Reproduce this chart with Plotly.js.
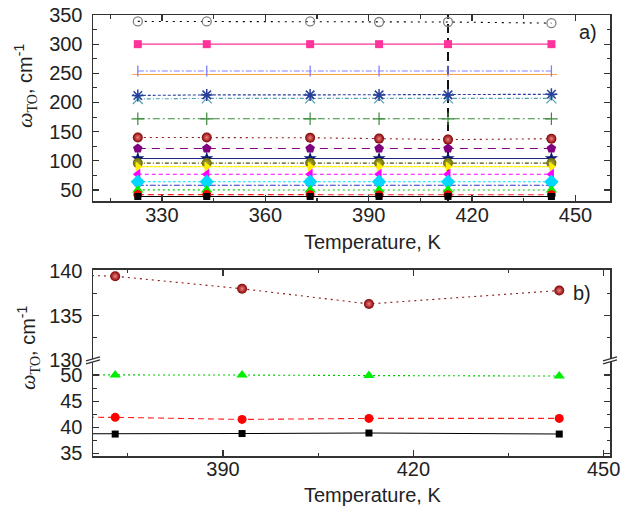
<!DOCTYPE html>
<html><head><meta charset="utf-8">
<script src="https://cdn.plot.ly/plotly-3.0.1.min.js"></script>
<style>html,body{margin:0;padding:0;background:#fff}#chart{width:633px;height:508px}</style>
</head><body><div id="chart"></div>
<script>
// ---- data ----
const temps = [323, 343, 373, 393, 413, 443];
const markTemperature = [413];
const wOpenCircle = [339, 339, 339, 338, 338, 336];
const wPinkSquare = [300, 300, 300, 300, 300, 300];
const wBar        = [254, 254, 254, 254, 254, 254];
const wOrange     = [248, 248, 248, 248, 248, 248];
const wAsterisk   = [212, 213, 213, 213, 213, 214];
const wCross      = [206, 207, 207, 207, 207, 207];
const wPlus       = [172, 172, 172, 172, 172, 172];
const wBall       = [140.0, 140.0, 139.4, 138.0, 136.3, 137.8];
const wPentagon   = [121, 121, 121, 121, 121, 121];
const wStar       = [104, 104, 104, 104, 104, 104];
const wOlive      = [96, 96, 96, 96, 96, 96];
const wYellow     = [90, 90, 90, 90, 90, 90];
const wMagenta    = [77, 77, 77, 77, 77, 77];
const wCyan       = [64, 64, 64, 64, 64, 64];
const wBlue       = [58, 58, 58, 58, 58, 58];
const wGreen      = [50.1, 50.1, 50.0, 50.0, 49.9, 49.8];
const wRed        = [42.0, 42.0, 41.9, 41.5, 41.7, 41.7];
const wBlack      = [38.7, 38.7, 38.7, 38.8, 38.9, 38.7];

const yTicksTop = [50, 100, 150, 200, 250, 300, 350];
const xTicks = [330, 360, 390, 420, 450];

// ---- styles ----
const series = [
  {y: wOpenCircle, sym:'circle-open', mc:'#808080', size:9, lc:'#000', dash:'2px,5px', mlw:1.3},
  {y: wPinkSquare, sym:'square', mc:'#ff3399', size:8, lc:'#ff3399', dash:'solid'},
  {y: wOrange, sym:'line-ew-open', mc:'#ffa040', size:8, lc:'#ffa040', dash:'solid', mlw:1},
  {y: wBar, sym:'line-ns-open', mc:'#8080ff', size:8, lc:'#8080ff', dash:'6px,2px,2px,2px', mlw:1.3},
  {y: wCross, sym:'x-thin-open', mc:'#50a0b0', size:10, lc:'#50a0b0', dash:'4px,2px,1px,2px', mlw:1.2},
  {y: wAsterisk, sym:'asterisk-open', mc:'#2b3f9a', size:10, lc:'#2b3f9a', dash:'3px,2px', mlw:1.5},
  {y: wPlus, sym:'cross-thin-open', mc:'#3a8a3a', size:9, lc:'#3a8a3a', dash:'7px,3px,2px,3px', mlw:1.2},
  {y: wBall, sym:'circle', mc:'#800000', size:10, lc:'#8b1a1a', dash:'2px,4px', grad:'#f08080'},
  {y: wPentagon, sym:'pentagon', mc:'#800080', size:10, lc:'#800080', dash:'8px,6px'},
  {y: wStar, sym:'star', mc:'#0a1a70', size:10, lc:'#1a2a80', dash:'solid'},
  {y: wOlive, sym:'circle', mc:'#6b6b00', size:10, lc:'#555500', dash:'4px,2px,1px,2px', grad:'#b0b040'},
  {y: wYellow, sym:'triangle-right', mc:'#ffee00', size:9, lc:'#ffee00', dash:'3px,1px'},
  {y: wMagenta, sym:'triangle-left', mc:'#ff00ff', size:10, lc:'#ff00ff', dash:'4px,3px'},
  {y: wBlue, sym:'triangle-down', mc:'#2040e0', size:9, lc:'#3333cc', dash:'6px,2px,2px,2px'},
  {y: wCyan, sym:'diamond', mc:'#00d8ff', size:11, lc:'#00e0ff', dash:'3px,2px'},
  {y: wGreen, sym:'triangle-up', mc:'#00ee00', size:10, lc:'#00cc00', dash:'2px,3px'},
  {y: wRed, sym:'circle', mc:'#ff0000', size:9, lc:'#ff2020', dash:'6px,4px'},
  {y: wBlack, sym:'square', mc:'#000000', size:7, lc:'#000000', dash:'solid'}
];

function mk(s, xa, ya) {
  const marker = {symbol: s.sym, color: s.mc, size: s.size,
                  line: {color: s.mc, width: s.mlw || 0}};
  if (s.grad) marker.gradient = {type: 'radial', color: s.grad};
  return {x: temps, y: s.y, xaxis: xa, yaxis: ya, mode: 'lines+markers',
          line: {color: s.lc, width: 1.1, dash: s.dash}, marker: marker,
          showlegend: false, hoverinfo: 'x+y', cliponaxis: true};
}

const data = series.map(s => mk(s, 'x', 'y'));
// bottom panel
data.push(mk(series[7], 'x3', 'y2'));
data.push(mk(series[15], 'x2', 'y3'));
data.push(mk(series[16], 'x2', 'y3'));
data.push(mk(series[17], 'x2', 'y3'));

const tickFont = {family: 'Liberation Sans, Arial, sans-serif', size: 20, color: '#222'};
const base = {showline: true, linecolor: '#333', linewidth: 1.5, ticks: 'inside', ticklen: 6,
  tickwidth: 1.3, tickcolor: '#333', showgrid: false, zeroline: false, tickfont: tickFont,
  ticklabelstandoff: 5, minor: {ticks: 'inside', ticklen: 3.5, tickwidth: 1.1, tickcolor: '#333'}};

const yb = 0.2132; // break position (paper)
const yTitle = '<i><span style="font-family:Liberation Serif;font-size:22px">ω</span></i><span style="font-family:Liberation Serif"><sub>TO</sub></span>, cm<sup>-1</sup>';
const ann = (o) => Object.assign({xref: 'paper', yref: 'paper', showarrow: false, xanchor: 'center', yanchor: 'middle',
  font: {family: 'Liberation Sans, Arial, sans-serif', size: 20, color: '#222'}}, o);

const layout = {
  width: 633, height: 508,
  margin: {l: 93, r: 23, t: 15, b: 52},
  paper_bgcolor: '#fff', plot_bgcolor: '#fff',
  font: tickFont,
  xaxis: Object.assign({}, base, {domain: [0, 1], anchor: 'y', range: [310, 460], tickvals: xTicks,
    ticklabelstandoff: -5, mirror: 'allticks', minor: Object.assign({}, base.minor, {dtick: 15, tick0: 0})}),
  yaxis: Object.assign({}, base, {domain: [0.5782, 1], anchor: 'x', range: [31, 350], tickvals: yTicksTop,
    mirror: 'allticks', minor: Object.assign({}, base.minor, {dtick: 25, tick0: 0})}),
  xaxis2: Object.assign({}, base, {domain: [0, 1], anchor: 'y3', range: [369.5, 451], tickvals: xTicks,
    ticklabelstandoff: -6, mirror: false, minor: Object.assign({}, base.minor, {dtick: 15, tick0: 0})}),
  xaxis3: Object.assign({}, base, {domain: [0, 1], anchor: 'y2', side: 'top', range: [369.5, 451], tickvals: xTicks,
    mirror: false, showticklabels: false, minor: Object.assign({}, base.minor, {dtick: 15, tick0: 0})}),
  yaxis2: Object.assign({}, base, {domain: [yb, 0.4218], anchor: 'x3', range: [129.8, 140.1], dtick: 5, tick0: 0,
    mirror: 'allticks', minor: Object.assign({}, base.minor, {dtick: 2.5, tick0: 0})}),
  yaxis3: Object.assign({}, base, {domain: [0, yb], anchor: 'x2', range: [34.5, 52.5], dtick: 5, tick0: 0,
    mirror: 'allticks', minor: Object.assign({}, base.minor, {dtick: 2.5, tick0: 0})}),
  shapes: [
    {type: 'line', xref: 'x', yref: 'y domain', x0: markTemperature[0], x1: markTemperature[0], y0: 0, y1: 1,
     line: {color: '#111', width: 2, dash: '9px,5px'}, layer: 'below'},
  ],
  annotations: [
    ann({text: 'a)', x: 0.957, y: 0.961}),
    ann({text: 'b)', x: 0.946, y: 0.370}),
    ann({text: 'Temperature, K', x: 0.54, y: 0.485}),
    ann({text: 'Temperature, K', x: 0.54, y: -0.088}),
    ann({text: yTitle, x: 0, xshift: -68, y: 0.839, textangle: -90}),
    ann({text: yTitle, x: 0, xshift: -64, y: 0.245, textangle: -90})
  ]
};
// break marks on both sides
[0, 1].forEach(xa => {
  layout.shapes.push({type: 'path', xref: 'paper', yref: 'paper', xsizemode: 'pixel', ysizemode: 'pixel',
    xanchor: xa, yanchor: yb, path: 'M -7 -2 L 7 2 L 7 5 L -7 1 Z', fillcolor: '#fff', line: {width: 0}, layer: 'above'});
  layout.shapes.push({type: 'path', xref: 'paper', yref: 'paper', xsizemode: 'pixel', ysizemode: 'pixel',
    xanchor: xa, yanchor: yb, path: 'M -7 -2 L 7 2', line: {color: '#333', width: 1.3}, layer: 'above'});
  layout.shapes.push({type: 'path', xref: 'paper', yref: 'paper', xsizemode: 'pixel', ysizemode: 'pixel',
    xanchor: xa, yanchor: yb, path: 'M -7 1 L 7 5', line: {color: '#333', width: 1.3}, layer: 'above'});
});

Plotly.newPlot('chart', data, layout, {displayModeBar: false, staticPlot: true});
</script></body></html>
